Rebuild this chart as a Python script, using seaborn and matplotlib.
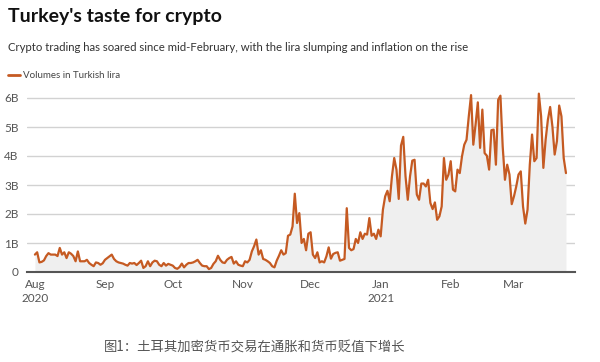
import numpy as np
import pandas as pd
import matplotlib
matplotlib.use("Agg")
import matplotlib.pyplot as plt
import matplotlib.dates as mdates
import seaborn as sns

# Daily crypto trading volumes in Turkish lira (billions), Aug 1 2020 - Mar 24 2021
aug = [0.6, 0.68, 0.33, 0.35, 0.4, 0.55, 0.65, 0.6, 0.6, 0.6, 0.55, 0.83, 0.6, 0.68, 0.48, 0.68,
       0.63, 0.55, 0.37, 0.71, 0.37, 0.37, 0.37, 0.42, 0.31, 0.25, 0.2, 0.33, 0.31, 0.25, 0.3]
sep = [0.42, 0.48, 0.54, 0.6, 0.45, 0.37, 0.33, 0.31, 0.29, 0.25, 0.22, 0.31, 0.29, 0.31, 0.24,
       0.31, 0.39, 0.14, 0.2, 0.37, 0.2, 0.33, 0.39, 0.37, 0.25, 0.2, 0.31, 0.22, 0.28, 0.25]
oct_ = [0.22, 0.14, 0.11, 0.17, 0.29, 0.16, 0.25, 0.31, 0.31, 0.33, 0.37, 0.42, 0.31, 0.22, 0.2,
        0.2, 0.1, 0.14, 0.28, 0.37, 0.56, 0.42, 0.33, 0.31, 0.42, 0.48, 0.52, 0.29, 0.37, 0.25, 0.22]
nov = [0.2, 0.37, 0.33, 0.42, 0.71, 0.89, 1.12, 0.6, 0.75, 0.45, 0.42, 0.37, 0.31, 0.2, 0.16,
       0.39, 0.56, 0.75, 0.6, 0.65, 1.25, 1.29, 1.57, 2.7, 1.69, 2.03, 1.0, 1.14, 0.75, 1.32]
dec = [1.37, 0.6, 0.48, 0.68, 0.33, 0.37, 0.33, 0.54, 0.85, 0.46, 0.62, 0.66, 0.68, 0.39, 0.42,
       0.45, 2.2, 0.83, 0.75, 0.79, 1.14, 1.0, 1.37, 1.14, 1.32, 1.29, 1.86, 1.25, 1.32, 1.14, 1.46]
jan = [1.23, 2.15, 2.61, 2.8, 2.44, 3.3, 3.93, 3.53, 2.52, 4.36, 4.66, 3.3, 2.49, 3.3, 3.84,
       3.87, 2.67, 2.49, 3.05, 3.05, 2.95, 3.18, 2.38, 2.17, 2.4, 1.8, 1.92, 2.26, 3.93, 3.18, 3.36]
feb = [3.82, 2.84, 2.78, 3.53, 3.41, 3.99, 4.39, 4.56, 5.37, 6.1, 4.39, 5.08, 5.85, 4.28, 5.6,
       4.1, 4.01, 3.53, 4.89, 4.91, 3.7, 5.94, 6.08, 4.33, 3.18, 3.7, 3.36, 2.34]
mar = [2.61, 2.95, 3.36, 3.47, 2.26, 1.67, 2.15, 3.7, 4.74, 3.82, 3.93, 6.15, 5.37, 3.59, 4.56,
       5.25, 5.69, 5.02, 4.05, 4.51, 5.74, 5.37, 3.93, 3.41]

volumes = aug + sep + oct_ + nov + dec + jan + feb + mar
dates = pd.date_range("2020-08-01", periods=len(volumes), freq="D")

y_ticks = [0, 1, 2, 3, 4, 5, 6]
y_labels = ["0", "1B", "2B", "3B", "4B", "5B", "6B"]
x_ticks = pd.to_datetime(["2020-08-01", "2020-09-01", "2020-10-01", "2020-11-01",
                          "2020-12-01", "2021-01-01", "2021-02-01", "2021-03-01"])
x_labels = ["Aug\n2020", "Sep", "Oct", "Nov", "Dec", "Jan\n2021", "Feb", "Mar"]

df = pd.DataFrame({"date": dates, "volume": volumes})

sns.set_theme(style="white")
plt.rcParams["font.family"] = ["Lato", "DejaVu Sans"]

LINE = "#c55a22"
fig = plt.figure(figsize=(6, 3.62), dpi=100)
W, H = 600, 362
ax = fig.add_axes([27 / W, 90 / H, 548 / W, 182.7 / H])

ax.fill_between(df["date"], df["volume"], 0, color="#efefef", lw=0, zorder=1)
sns.lineplot(data=df, x="date", y="volume", ax=ax, color=LINE, lw=1.6, zorder=3)

ax.set_ylim(0, 6.3)
ax.set_xlim(pd.Timestamp("2020-07-28 12:00"), pd.Timestamp("2021-03-28"))
ax.set_yticks(y_ticks)
ax.set_yticklabels(y_labels)
ax.set_xticks(x_ticks)
ax.set_xticklabels(x_labels, linespacing=1.3)
ax.set_xlabel("")
ax.set_ylabel("")

for t in y_ticks[1:]:
    ax.axhline(t, color="#d2d2d2", lw=1.0, zorder=0)

for s in ["top", "right", "left"]:
    ax.spines[s].set_visible(False)
ax.spines["bottom"].set_color("#555555")
ax.spines["bottom"].set_linewidth(1.5)
ax.spines["bottom"].set_zorder(5)
ax.tick_params(axis="both", length=0, labelsize=8.5, labelcolor="#555555")
ax.tick_params(axis="y", pad=6)
ax.tick_params(axis="x", pad=5)
for lab in ax.get_xticklabels():
    lab.set_ha("center")

fig.text(8 / W, 1 - 8 / H, "Turkey's taste for crypto", fontsize=14, fontweight="bold",
         color="#111111", ha="left", va="top")
fig.text(8 / W, 1 - 42 / H, "Crypto trading has soared since mid-February, with the lira slumping and inflation on the rise",
         fontsize=8.2, color="#333333", ha="left", va="top")
fig.add_artist(plt.Line2D([8 / W, 20 / W], [1 - 75 / H, 1 - 75 / H], color=LINE, lw=2,
                          transform=fig.transFigure))
fig.text(23 / W, 1 - 75 / H, "Volumes in Turkish lira", fontsize=7.0, color="#444444",
         ha="left", va="center")

fig.text(255 / W, 1 - 348 / H, "图1：土耳其加密货币交易在通胀和货币贬值下增长",
         fontsize=9.6, color="#555555", ha="center", va="center",
         family=["Noto Sans CJK SC", "DejaVu Sans"])

fig.savefig("out.png", dpi=100, facecolor="white")
